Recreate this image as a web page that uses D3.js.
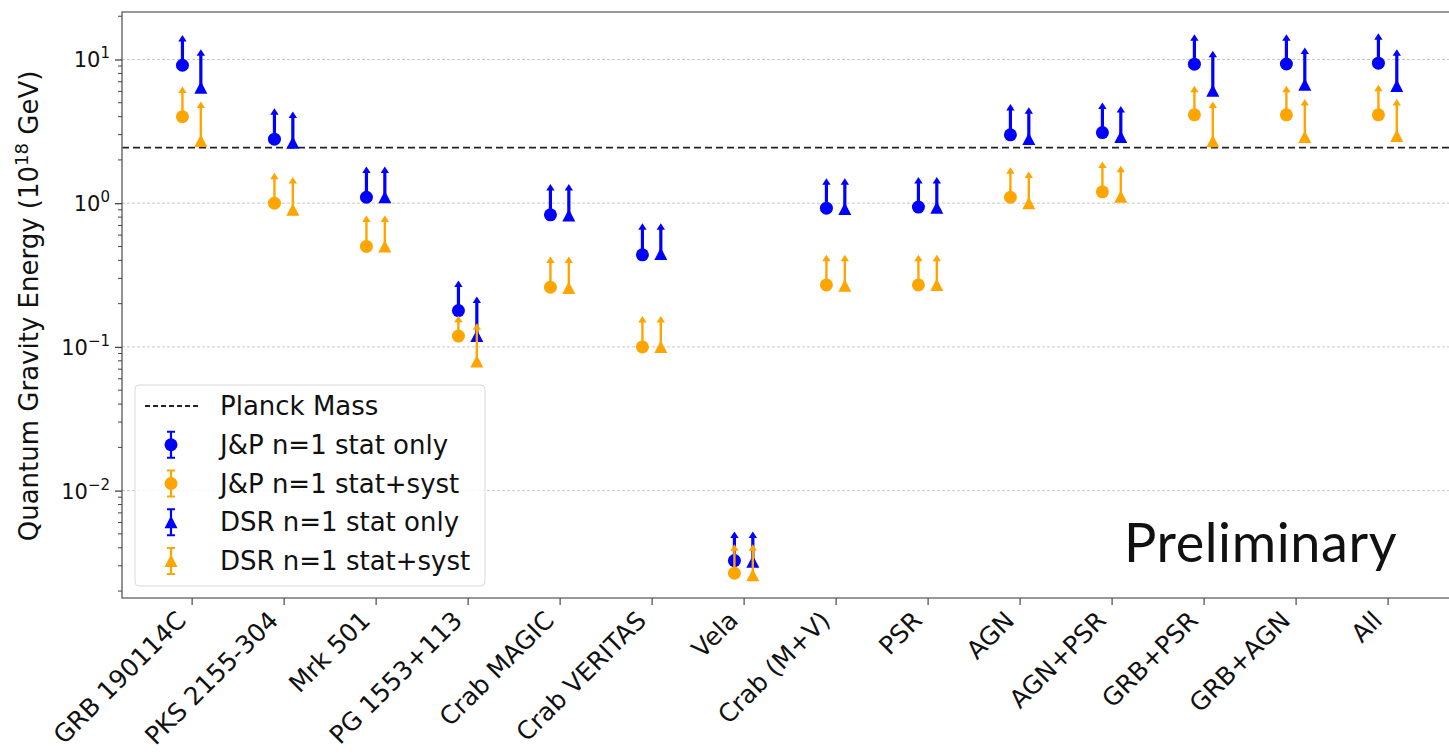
<!DOCTYPE html>
<html>
<head>
<meta charset="utf-8">
<script src="https://cdn.jsdelivr.net/npm/d3@7"></script>
<style>
  body { margin: 0; background: #fff; }
  text { font-family: "DejaVu Sans", sans-serif; fill: #111; }
</style>
</head>
<body>
<div id="chart"></div>
<script>
// sources on the x axis
const sources = ["GRB 190114C", "PKS 2155-304", "Mrk 501", "PG 1553+113", "Crab MAGIC", "Crab VERITAS",
  "Vela", "Crab (M+V)", "PSR", "AGN", "AGN+PSR", "GRB+PSR", "GRB+AGN", "All"];

// lower limits (10^18 GeV) and the tip of each arrow
const jpStat     = [9.12, 2.79, 1.10, 0.179, 0.83, 0.437, 0.00326, 0.923, 0.94, 2.99, 3.10, 9.28, 9.30, 9.42];
const jpStatTop  = [14.8, 4.58, 1.80, 0.29, 1.36, 0.726, 0.0052, 1.49, 1.52, 4.9, 5.01, 15.0, 15.0, 15.2];
const jpSyst     = [4.0, 1.0, 0.50, 0.119, 0.26, 0.10, 0.00266, 0.27, 0.27, 1.10, 1.20, 4.12, 4.12, 4.12];
const jpSystTop  = [6.48, 1.63, 0.82, 0.165, 0.425, 0.164, 0.00424, 0.437, 0.437, 1.78, 1.95, 6.56, 6.56, 6.66];
const dsrStat    = [6.35, 2.63, 1.10, 0.119, 0.82, 0.443, 0.0032, 0.91, 0.93, 2.8, 2.89, 6.05, 6.66, 6.55];
const dsrStatTop = [11.8, 4.34, 1.80, 0.224, 1.36, 0.726, 0.0052, 1.49, 1.52, 4.66, 4.75, 11.5, 12.1, 11.8];
const dsrSyst    = [2.71, 0.90, 0.50, 0.079, 0.257, 0.10, 0.00258, 0.266, 0.27, 1.0, 1.11, 2.70, 2.89, 2.94];
const dsrSystTop = [5.1, 1.52, 0.82, 0.146, 0.425, 0.164, 0.00424, 0.437, 0.437, 1.66, 1.82, 5.1, 5.3, 5.3];

const planckMass = 2.44;
const yMajor = [0.01, 0.1, 1, 10];
const yTickLabels = ["\u22122", "\u22121", "0", "1"];

const blue = "#0000ff", orange = "#ffa500";

const series = [
  {name: "J&P n=1 stat only",   vals: jpStat,  tops: jpStatTop,  color: blue,   shape: "circle",   dx: -0.1, lw: 3.2},
  {name: "J&P n=1 stat+syst",   vals: jpSyst,  tops: jpSystTop,  color: orange, shape: "circle",   dx: -0.1, lw: 2.4},
  {name: "DSR n=1 stat only",   vals: dsrStat, tops: dsrStatTop, color: blue,   shape: "triangle", dx: 0.1,  lw: 3.2},
  {name: "DSR n=1 stat+syst",   vals: dsrSyst, tops: dsrSystTop, color: orange, shape: "triangle", dx: 0.1,  lw: 2.4}
];

const W = 1449, H = 756;
const padL = 122, padR = 1452, padT = 12, padB = 598;

const svg = d3.select("#chart").append("svg")
  .attr("width", W).attr("height", H);

const x = d3.scaleLinear().domain([-0.757, 13.7]).range([padL, padR]);
const y = d3.scaleLog().domain([0.00179, 21.4]).range([padB, padT]);

// grid
svg.append("g").selectAll("line").data(yMajor).join("line")
  .attr("x1", padL).attr("x2", padR)
  .attr("y1", d => y(d)).attr("y2", d => y(d))
  .attr("stroke", "#c8c8c8").attr("stroke-width", 1).attr("stroke-dasharray", "3,2");

// planck mass line
svg.append("line")
  .attr("x1", padL).attr("x2", padR)
  .attr("y1", y(planckMass)).attr("y2", y(planckMass))
  .attr("stroke", "#222").attr("stroke-width", 1.8).attr("stroke-dasharray", "7,4");

// frame
svg.append("path")
  .attr("d", `M${padR},${padT}H${padL}V${padB}H${padR}`)
  .attr("fill", "none").attr("stroke", "#777").attr("stroke-width", 1.6);

// y axis
const yAxis = d3.axisLeft(y)
  .tickValues(yMajor)
  .tickSize(7)
  .tickFormat("");
const gy = svg.append("g").attr("transform", `translate(${padL},0)`).call(yAxis);
gy.select(".domain").remove();
gy.selectAll(".tick line").attr("stroke", "#444").attr("stroke-width", 1.3);

const minor = [];
[0.001, 0.01, 0.1, 1, 10].forEach(d => {
  for (let k = 2; k <= 9; k++) {
    const v = d * k;
    if (v > y.domain()[0] && v < y.domain()[1]) minor.push(v);
  }
});
svg.append("g").selectAll("line").data(minor).join("line")
  .attr("x1", padL - 4).attr("x2", padL)
  .attr("y1", d => y(d)).attr("y2", d => y(d))
  .attr("stroke", "#444").attr("stroke-width", 1);

const ylab = svg.append("g").selectAll("text").data(yMajor).join("text")
  .attr("x", 110).attr("y", d => y(d) + 8)
  .attr("text-anchor", "end")
  .style("font-size", "21px");
ylab.append("tspan").text("10");
ylab.append("tspan").attr("dy", -9).style("font-size", "15px").text((d, i) => yTickLabels[i]);

// x axis
const xAxis = d3.axisBottom(x)
  .tickValues(d3.range(sources.length))
  .tickSize(7)
  .tickFormat("");
const gx = svg.append("g").attr("transform", `translate(0,${padB})`).call(xAxis);
gx.select(".domain").remove();
gx.selectAll(".tick line").attr("stroke", "#555").attr("stroke-width", 1.3);

svg.append("g").selectAll("text").data(sources).join("text")
  .attr("transform", (d, i) => `translate(${x(i) - 4},622) rotate(-45)`)
  .attr("text-anchor", "end")
  .style("font-size", "25px")
  .text(d => d);

// y label
const yt = svg.append("text")
  .attr("transform", "translate(38,306) rotate(-90)")
  .attr("text-anchor", "middle")
  .style("font-size", "26px");
yt.append("tspan").text("Quantum Gravity Energy (10");
yt.append("tspan").attr("dy", -10).style("font-size", "18px").text("18");
yt.append("tspan").attr("dy", 10).text(" GeV)");

// markers
function marker(g, shape, cx, cy, color) {
  if (shape === "circle") {
    g.append("circle").attr("cx", cx).attr("cy", cy).attr("r", 6.5).attr("fill", color);
  } else {
    g.append("path")
      .attr("d", `M${cx},${cy - 6.5}L${cx + 6.5},${cy + 6}L${cx - 6.5},${cy + 6}Z`)
      .attr("fill", color);
  }
}

series.forEach(s => {
  const g = svg.append("g");
  s.vals.forEach((v, i) => {
    const cx = x(i + s.dx), cy = y(v), ty = y(s.tops[i]);
    g.append("line")
      .attr("x1", cx).attr("x2", cx).attr("y1", cy).attr("y2", ty + 5)
      .attr("stroke", s.color).attr("stroke-width", s.lw);
    g.append("path")
      .attr("d", `M${cx},${ty}L${cx + 4.2},${ty + 6.5}L${cx - 4.2},${ty + 6.5}Z`)
      .attr("fill", s.color);
    marker(g, s.shape, cx, cy, s.color);
  });
});

// legend
const leg = svg.append("g");
leg.append("rect")
  .attr("x", 135).attr("y", 385).attr("width", 350).attr("height", 201).attr("rx", 4)
  .attr("fill", "#fff").attr("fill-opacity", 0.8)
  .attr("stroke", "#d9d9d9").attr("stroke-width", 1);

const rowY = d3.scaleLinear().domain([0, 4]).range([406, 561]);
leg.append("line")
  .attr("x1", 145).attr("x2", 198).attr("y1", rowY(0)).attr("y2", rowY(0))
  .attr("stroke", "#222").attr("stroke-width", 1.8).attr("stroke-dasharray", "5,3");
leg.append("text").attr("x", 220).attr("y", rowY(0) + 9).style("font-size", "26px").text("Planck Mass");

series.forEach((s, i) => {
  const ly = rowY(i + 1), lx = 171;
  leg.append("line")
    .attr("x1", lx).attr("x2", lx).attr("y1", ly - 13).attr("y2", ly + 13)
    .attr("stroke", s.color).attr("stroke-width", 2.2);
  [ly - 13, ly + 13].forEach(cy => leg.append("line")
    .attr("x1", lx - 4).attr("x2", lx + 4).attr("y1", cy).attr("y2", cy)
    .attr("stroke", s.color).attr("stroke-width", 2));
  marker(leg, s.shape, lx, ly, s.color);
  leg.append("text").attr("x", 220).attr("y", ly + 9).style("font-size", "26px").text(s.name);
});

// preliminary stamp
svg.append("text")
  .attr("x", 1124).attr("y", 562)
  .style("font-family", "Lato, 'Open Sans', sans-serif")
  .style("font-size", "54px")
  .style("letter-spacing", "0.6px")
  .text("Preliminary");
</script>
</body>
</html>
